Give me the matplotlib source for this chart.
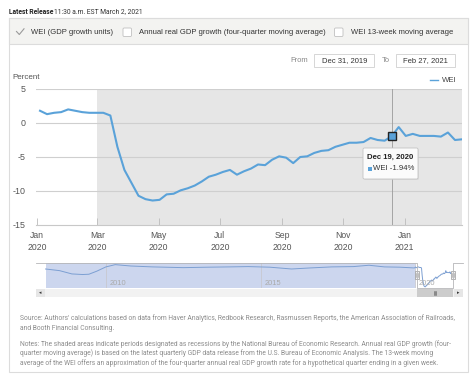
import matplotlib.pyplot as plt
import matplotlib.dates as mdates
import numpy as np
import pandas as pd
from matplotlib.patches import Rectangle, FancyBboxPatch

# weekly WEI (GDP growth units), week ending Jan 4 2020 .. Feb 27 2021
wei = [1.8, 1.3, 1.5, 1.6, 2.0, 1.8, 1.6, 1.5, 1.5, 1.5,
       1.1, -3.5, -6.9, -8.8, -10.7, -11.2, -11.4, -11.3, -10.5, -10.4,
       -9.9, -9.6, -9.2, -8.6, -7.9, -7.6, -7.2, -6.9, -7.6, -7.1,
       -6.7, -6.1, -6.2, -5.4, -4.9, -5.1, -5.9, -5.0, -4.9, -4.4,
       -4.1, -4.0, -3.5, -3.2, -2.9, -2.9, -2.8, -2.2, -2.5, -2.6,
       -1.94, -0.6, -1.9, -1.6, -1.9, -1.9, -1.9, -2.0, -1.4, -2.5, -2.4]
weeks = pd.date_range('2020-01-04', periods=len(wei), freq='7D')

# navigator (full history, coarse)
nav_years = [2008.05, 2008.5, 2008.9, 2009.25, 2009.45, 2009.7, 2010.0, 2010.3,
             2010.8, 2011.5, 2012.5, 2013.3, 2014.0, 2014.6, 2015.3, 2016.0,
             2016.6, 2017.3, 2018.0, 2018.5, 2019.0, 2019.5, 2019.97]
nav_vals = [0.5, -0.6, -2.8, -3.2, -3.0, -1.0, 1.9, 3.4,
            2.5, 1.9, 1.4, 1.7, 1.9, 2.1, 1.7, 0.5,
            1.2, 1.9, 2.1, 3.0, 1.9, 1.7, 1.2]

xtick_dates = pd.to_datetime(['2020-01-01', '2020-03-01', '2020-05-01', '2020-07-01',
                              '2020-09-01', '2020-11-01', '2021-01-01'])
xtick_labels = ['Jan\n2020', 'Mar\n2020', 'May\n2020', 'Jul\n2020',
                'Sep\n2020', 'Nov\n2020', 'Jan\n2021']
yticks = [5, 0, -5, -10, -15]

footer = ["Source: Authors' calculations based on data from Haver Analytics, Redbook Research, Rasmussen Reports, the American Association of Railroads,",
          "and Booth Financial Consulting.",
          "Notes: The shaded areas indicate periods designated as recessions by the National Bureau of Economic Research. Annual real GDP growth (four-",
          "quarter moving average) is based on the latest quarterly GDP data release from the U.S. Bureau of Economic Analysis. The 13-week moving",
          "average of the WEI offers an approximation of the four-quarter annual real GDP growth rate for a hypothetical quarter ending in a given week."]

BLUE = '#5aa2d9'
W, H = 474, 378
plt.rcParams['font.family'] = ['Liberation Sans', 'DejaVu Sans']


def box(x0, y0, x1, y1):
    # pixel box -> figure fraction [l, b, w, h]
    return [x0 / W, 1 - y1 / H, (x1 - x0) / W, (y1 - y0) / H]


def main():
    fig = plt.figure(figsize=(W / 100, H / 100), dpi=100)

    # background page / panels in pixel coords
    bg = fig.add_axes([0, 0, 1, 1], zorder=0)
    bg.set_xlim(0, W)
    bg.set_ylim(H, 0)
    bg.axis('off')
    bg.add_patch(Rectangle((9, 18), 459, 354, fc='white', ec='#dcdcdc', lw=0.8))
    bg.add_patch(Rectangle((9, 18), 459, 25.5, fc='#f3f3f1', ec='#dcdcdc', lw=0.8))

    # main chart
    ax = fig.add_axes(box(36, 89, 462, 225), zorder=1)
    ax.set_facecolor('white')
    ax.axvspan(pd.Timestamp('2020-03-01'), pd.Timestamp('2021-03-31'), color='#e6e6e6', lw=0, zorder=0)
    for yv in yticks[:-1]:
        ax.axhline(yv, color='#cfcfcf', lw=0.8, zorder=1)
    ax.axvline(pd.Timestamp('2020-12-19'), color='#9a9a9a', lw=0.6, zorder=2)
    ax.plot(weeks, wei, color=BLUE, lw=1.5, zorder=3, solid_joinstyle='round')
    ax.plot(weeks[50], wei[50], marker='s', ms=6.2, mfc=BLUE, mec='#222222', mew=1.0, zorder=4)
    ax.set_xlim(pd.Timestamp('2019-12-31'), pd.Timestamp('2021-02-27'))
    ax.set_ylim(-15, 5)
    ax.set_yticks(yticks)
    ax.set_yticklabels([str(v) for v in yticks])
    ax.set_xticks(xtick_dates)
    ax.set_xticklabels(xtick_labels, linespacing=1.45)
    ax.tick_params(axis='y', length=0, pad=7.5, labelsize=6.4, labelcolor='#555555')
    ax.tick_params(axis='x', direction='in', length=5, width=0.6, color='#bbbbbb',
                   pad=4.5, labelsize=6.2, labelcolor='#555555')
    for s in ['top', 'right', 'left']:
        ax.spines[s].set_visible(False)
    ax.spines['bottom'].set_color('#c8c8c8')
    ax.spines['bottom'].set_linewidth(0.8)

    # navigator
    nav = fig.add_axes(box(36, 263, 463, 288), zorder=1)
    nav.set_xlim(2007.74, 2021.54)
    nav.set_ylim(-12.2, 4.5)
    nav.axis('off')
    nav.axvspan(2008.05, 2020.0, color='#ccd6ee', lw=0, zorder=0)
    for yr in [2010, 2015, 2020]:
        nav.axvline(yr, color='#c8c8d0', lw=0.6, zorder=1)
        nav.text(yr + 0.12, -9.2, str(yr), fontsize=5.4, color='#aaaaaa', va='center')
    wk_years = 2020 + (weeks - pd.Timestamp('2020-01-01')).days / 366.0
    nav.plot(list(nav_years) + list(wk_years), list(nav_vals) + list(wei),
             color='#7c9fd2', lw=0.7, zorder=2)

    # overlay for UI bits
    ui = fig.add_axes([0, 0, 1, 1], zorder=5)
    ui.set_xlim(0, W)
    ui.set_ylim(H, 0)
    ui.axis('off')
    ui.patch.set_alpha(0)

    # navigator outline, handles, scrollbar
    ui.plot([36, 417, 417, 453, 453, 463], [263, 263, 288, 288, 263, 263], color='#b5b5b8', lw=0.6)
    for hx in [417, 453]:
        ui.add_patch(Rectangle((hx - 2.2, 271), 4.4, 8, fc='#f4f4f4', ec='#999999', lw=0.5))
        ui.plot([hx - 0.6, hx - 0.6], [273, 277], color='#999999', lw=0.4)
        ui.plot([hx + 0.6, hx + 0.6], [273, 277], color='#999999', lw=0.4)
    ui.add_patch(Rectangle((36, 288.5), 427, 8.5, fc='#f2f2f2', ec='none'))
    ui.add_patch(Rectangle((36, 288.5), 9, 8.5, fc='#e6e6e6', ec='none'))
    ui.add_patch(Rectangle((454, 288.5), 9, 8.5, fc='#e6e6e6', ec='none'))
    ui.add_patch(Rectangle((417, 288.5), 36, 8.5, fc='#cccccc', ec='none'))
    ui.text(40.5, 292.8, '◂', fontsize=3.5, color='#333333', ha='center', va='center', family='DejaVu Sans')
    ui.text(458.5, 292.8, '▸', fontsize=3.5, color='#333333', ha='center', va='center', family='DejaVu Sans')
    for dx in [-1.2, 0, 1.2]:
        ui.plot([435 + dx, 435 + dx], [291, 294.5], color='#555555', lw=0.4)

    # header
    ui.text(9, 11.7, 'Latest Release', fontsize=4.9, fontweight='bold', color='#222222',
            va='center', family=['Roboto', 'DejaVu Sans'])
    ui.text(54.5, 11.7, '11:30 a.m. EST March 2, 2021', fontsize=4.9, color='#333333',
            va='center', family=['Roboto', 'DejaVu Sans'])

    # checkbox row
    ui.plot([16.5, 19.3, 24], [31.5, 34.5, 28.8], color='#9a9a9a', lw=0.8)
    ui.text(31.5, 32, 'WEI (GDP growth units)', fontsize=5.5, color='#333333', va='center')
    for bx in [123, 334.5]:
        ui.add_patch(FancyBboxPatch((bx, 28), 8.5, 8.5, boxstyle='round,pad=0,rounding_size=1.2',
                                    fc='white', ec='#c0c0c0', lw=0.6))
    ui.text(139.5, 32, 'Annual real GDP growth (four-quarter moving average)', fontsize=5.5,
            color='#333333', va='center')
    ui.text(351, 32, 'WEI 13-week moving average', fontsize=5.5, color='#333333', va='center')

    # date range inputs
    ui.text(290, 60.3, 'From', fontsize=5.5, color='#888888', va='center')
    ui.add_patch(Rectangle((314.5, 53.5), 59.5, 13.5, fc='white', ec='#d0d0d0', lw=0.6))
    ui.text(344.2, 60.3, 'Dec 31, 2019', fontsize=5.5, color='#333333', ha='center', va='center')
    ui.text(381.5, 60.3, 'To', fontsize=5.5, color='#888888', va='center')
    ui.add_patch(Rectangle((396, 53.5), 59.5, 13.5, fc='white', ec='#d0d0d0', lw=0.6))
    ui.text(425.7, 60.3, 'Feb 27, 2021', fontsize=5.5, color='#333333', ha='center', va='center')

    # axis title and legend
    ui.text(12, 77.3, 'Percent', fontsize=5.8, color='#555555', va='center')
    ui.plot([430, 438], [80, 80], color=BLUE, lw=1.0)
    ui.text(441.5, 80, 'WEI', fontsize=5.6, color='#444444', va='center')

    # tooltip
    ui.add_patch(FancyBboxPatch((364, 149), 55, 31, boxstyle='round,pad=0,rounding_size=1.5',
                                fc='#cfcfcf', ec='none', alpha=0.5))
    ui.add_patch(FancyBboxPatch((363, 148), 55, 31, boxstyle='round,pad=0,rounding_size=1.5',
                                fc='#fbfbfb', ec='#c4c4c4', lw=0.6))
    ui.text(367.5, 157.5, 'Dec 19, 2020', fontsize=5.6, fontweight='bold', color='#222222', va='center')
    ui.add_patch(Rectangle((367.7, 166.5), 4.2, 4.2, fc=BLUE, ec='none'))
    ui.text(373.3, 169, 'WEI -1.94%', fontsize=5.6, color='#333333', va='center')

    # footer notes
    for yy, line in zip([318.3, 329, 343.7, 353.3, 362.7], footer):
        ui.text(20.5, yy, line, fontsize=4.85, color='#8c8c8c', va='center',
                family=['Roboto', 'DejaVu Sans'])

    plt.savefig('out.png', dpi=100)


if __name__ == '__main__':
    main()
